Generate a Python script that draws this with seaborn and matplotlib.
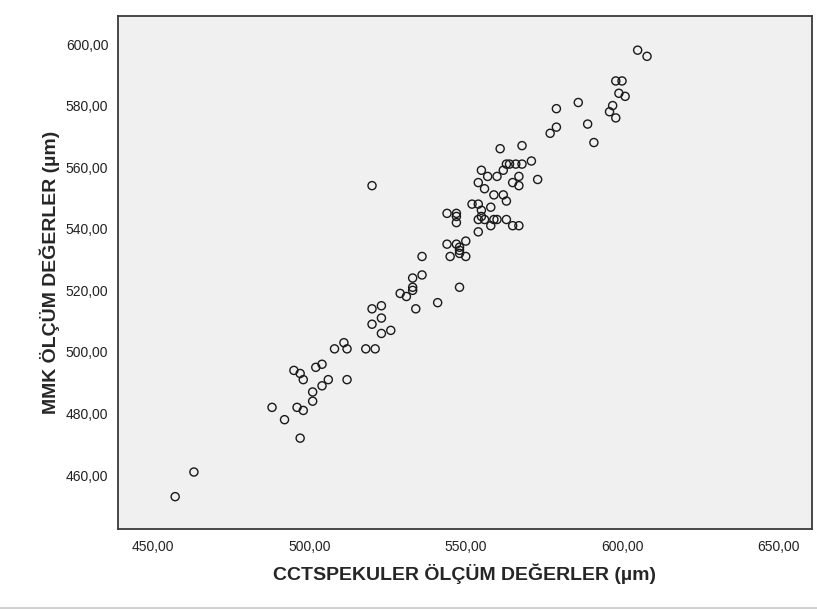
import pandas as pd
import matplotlib.pyplot as plt
import seaborn as sns
from matplotlib.lines import Line2D

# Degerler (µm)
cct = [605, 608, 598, 600, 599, 601, 597, 596, 598, 586, 579, 579, 577, 589, 591, 571,
       561, 568, 563, 564, 566, 568, 555, 562, 557, 560, 567,
       565, 567, 573, 554, 556, 559, 562, 563,
       552, 554, 555, 558, 544, 547, 547, 547,
       554, 555, 556, 559, 560, 563, 558, 565, 567, 554,
       544, 547, 548, 548, 550, 545, 548, 550,
       548, 536, 536, 541,
       533, 533, 533, 529, 531, 534,
       520, 523, 523, 520, 523, 526,
       511, 508, 512, 518, 521, 506, 512,
       495, 497, 498, 502, 504, 504, 501, 501, 488, 496, 498, 492, 497,
       463, 457, 520]
mmk = [598, 596, 588, 588, 584, 583, 580, 578, 576, 581, 579, 573, 571, 574, 568, 562,
       566, 567, 561, 561, 561, 561, 559, 559, 557, 557, 557,
       555, 554, 556, 555, 553, 551, 551, 549,
       548, 548, 546, 547, 545, 545, 544, 542,
       543, 544, 543, 543, 543, 543, 541, 541, 541, 539,
       535, 535, 534, 533, 536, 531, 532, 531,
       521, 531, 525, 516,
       524, 521, 520, 519, 518, 514,
       514, 515, 511, 509, 506, 507,
       503, 501, 501, 501, 501, 491, 491,
       494, 493, 491, 495, 496, 489, 487, 484, 482, 482, 481, 478, 472,
       461, 453, 554]

x_ticks = [450, 500, 550, 600, 650]
y_ticks = [460, 480, 500, 520, 540, 560, 580, 600]

df = pd.DataFrame({'cct': cct, 'mmk': mmk})

sns.set_style('white')
plt.rcParams['font.family'] = ['Liberation Sans', 'DejaVu Sans']

fig = plt.figure(figsize=(8.17, 6.10), dpi=100)
ax = fig.add_axes([0.1444, 0.1328, 0.8495, 0.841])
ax.set_facecolor('#F0F0F0')

sns.scatterplot(data=df, x='cct', y='mmk', ax=ax, marker='o', s=34,
                fc='none', ec='#1a1a1a', linewidth=1.0)

ax.set_xlim(438.7, 660.8)
ax.set_ylim(442.5, 609.1)
ax.set_xticks(x_ticks)
ax.set_yticks(y_ticks)
ax.set_xticklabels([f'{v},00' for v in x_ticks])
ax.set_yticklabels([f'{v},00' for v in y_ticks])
ax.tick_params(axis='both', direction='out', length=6, width=1.2, color='#333333',
               labelsize=10, labelcolor='#222222')
ax.tick_params(axis='x', pad=2)
ax.tick_params(axis='y', pad=1)

for sp in ax.spines.values():
    sp.set_color('#3a3a3a')
    sp.set_linewidth(1.3)

ax.set_xlabel('CCTSPEKULER ÖLÇÜM DEĞERLER (µm)', fontsize=14, fontweight='bold', labelpad=7)
ax.set_ylabel('MMK ÖLÇÜM DEĞERLER (µm)', fontsize=14, fontweight='bold', labelpad=4)

# alttaki ince gri cizgi
fig.add_artist(Line2D([0, 1], [1 - 608 / 610, 1 - 608 / 610], color='#C8C8C8', linewidth=1.2))

plt.savefig('out.png', dpi=100)
